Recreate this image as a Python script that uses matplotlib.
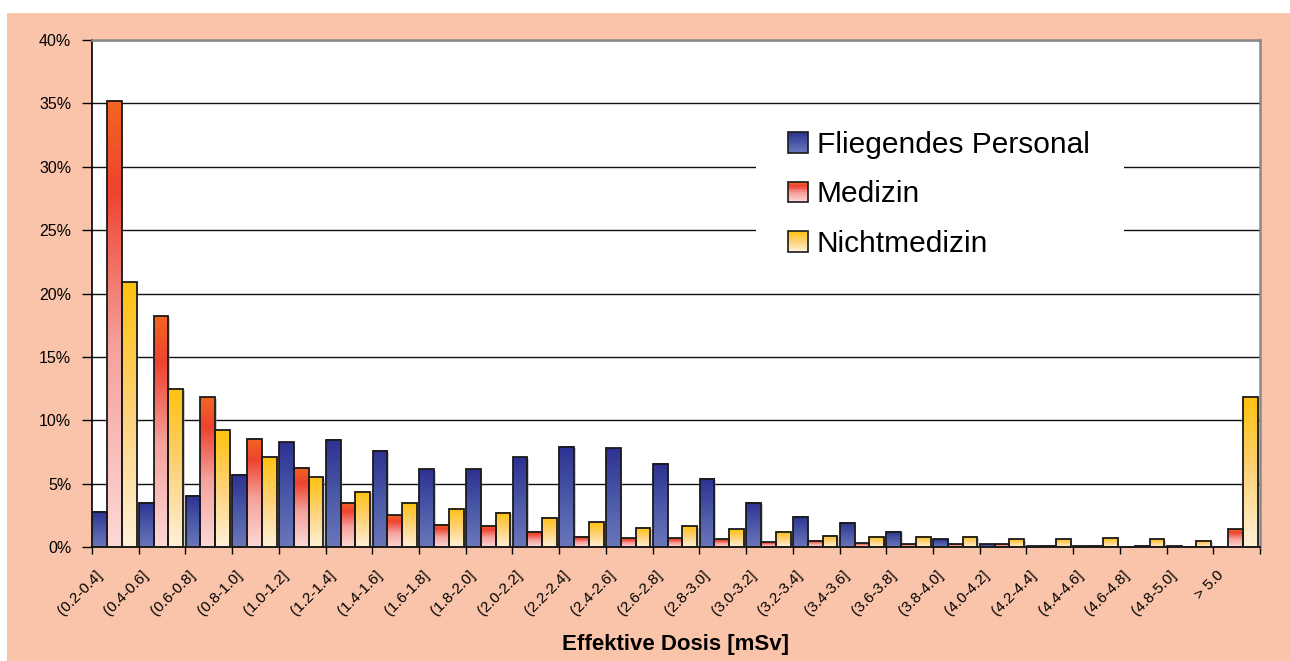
import matplotlib
matplotlib.use('Agg')
import matplotlib.pyplot as plt
import matplotlib.transforms as mtransforms
from matplotlib.colors import LinearSegmentedColormap
from matplotlib.patches import Rectangle, Patch
from matplotlib.legend_handler import HandlerPatch
import numpy as np

plt.rcParams['font.family'] = ['Liberation Sans', 'DejaVu Sans']

# Dosisklassen und Anteile in %
klassen = ['(0.2-0.4]', '(0.4-0.6]', '(0.6-0.8]', '(0.8-1.0]', '(1.0-1.2]',
           '(1.2-1.4]', '(1.4-1.6]', '(1.6-1.8]', '(1.8-2.0]', '(2.0-2.2]',
           '(2.2-2.4]', '(2.4-2.6]', '(2.6-2.8]', '(2.8-3.0]', '(3.0-3.2]',
           '(3.2-3.4]', '(3.4-3.6]', '(3.6-3.8]', '(3.8-4.0]', '(4.0-4.2]',
           '(4.2-4.4]', '(4.4-4.6]', '(4.6-4.8]', '(4.8-5.0]', '> 5.0']
fliegend = [2.8, 3.5, 4.05, 5.7, 8.25, 8.45, 7.6, 6.15, 6.15, 7.1,
            7.9, 7.8, 6.55, 5.4, 3.5, 2.4, 1.9, 1.2, 0.6, 0.2,
            0.05, 0.05, 0.0, 0.05, 0.0]
medizin = [35.2, 18.2, 11.8, 8.55, 6.25, 3.5, 2.5, 1.75, 1.66, 1.2,
           0.8, 0.7, 0.7, 0.6, 0.37, 0.5, 0.3, 0.2, 0.2, 0.2,
           0.1, 0.1, 0.1, 0.0, 1.4]
nichtmed = [20.9, 12.5, 9.2, 7.1, 5.5, 4.35, 3.5, 3.0, 2.7, 2.3,
            1.95, 1.5, 1.65, 1.4, 1.2, 0.9, 0.8, 0.8, 0.8, 0.6,
            0.6, 0.7, 0.6, 0.5, 11.8]
namen = ['Fliegendes Personal', 'Medizin', 'Nichtmedizin']
yticks = [0, 5, 10, 15, 20, 25, 30, 35, 40]

peach = '#FAC4AA'
cmaps = [
    LinearSegmentedColormap.from_list('b', ['#6B76BA', '#4A58A8', '#2E3192']),
    LinearSegmentedColormap.from_list('r', [(0, '#FCD8D6'), (0.45, '#F5A19C'),
                                            (0.8, '#EE4330'), (1, '#F26522')]),
    LinearSegmentedColormap.from_list('y', [(0, '#FFF1D8'), (0.5, '#FED27A'),
                                            (1, '#FFC20E')]),
]
grad = np.linspace(0, 1, 128).reshape(-1, 1)

fig = plt.figure(figsize=(12.9, 6.61), dpi=100, facecolor='white')
fig.patches.append(Rectangle((7 / 1290, 0), 1283 / 1290, 648 / 661,
                             transform=fig.transFigure, facecolor=peach,
                             edgecolor='none', zorder=-10))
ax = fig.add_axes([92 / 1290, 114 / 661, 1168 / 1290, 507 / 661])
ax.set_facecolor('white')

n = len(klassen)
x = np.arange(n)
w = 0.316
for k, serie in enumerate([fliegend, medizin, nichtmed]):
    left = x + 0.005 + k * w
    for xi, h in zip(left, serie):
        if h <= 0:
            continue
        ax.imshow(grad, cmap=cmaps[k], origin='lower', aspect='auto',
                  extent=[xi, xi + w, 0, h], zorder=2, interpolation='bilinear')
    # leichter Schatten
    sh = mtransforms.offset_copy(ax.transData, fig=fig, x=1.5, y=-1.5, units='dots')
    ax.bar(left, serie, w, align='edge', color='#9a9a9a', alpha=0.5,
           edgecolor='none', zorder=1.5, transform=sh)
    ax.bar(left, serie, w, align='edge', facecolor='none',
           edgecolor='#1a1a1a', linewidth=1.3, zorder=3)

ax.set_xlim(0, n)
ax.set_ylim(0, 40)
ax.set_yticks(yticks)
ax.set_yticklabels([f'{v}%' for v in yticks], fontsize=11.5)
ax.yaxis.grid(True, color='#111111', linewidth=1.0)
ax.set_axisbelow(True)

ax.set_xticks(np.arange(n + 1))
ax.set_xticklabels([])
ax.set_xticks(x + 0.06, minor=True)
ax.set_xticklabels(klassen, minor=True, rotation=45, ha='right',
                   rotation_mode='anchor', fontsize=11)
ax.tick_params(axis='x', which='minor', length=0, pad=15)
ax.tick_params(axis='x', which='major', length=5, width=1, direction='out')
ax.tick_params(axis='y', length=7, width=1, direction='out', pad=8)

for s in ['left', 'bottom']:
    ax.spines[s].set_color('black')
    ax.spines[s].set_linewidth(1.2)
for s in ['top', 'right']:
    ax.spines[s].set_color('#888888')
    ax.spines[s].set_linewidth(1.8)

ax.set_xlabel('Effektive Dosis [mSv]', fontsize=16, fontweight='bold')
ax.xaxis.set_label_coords(0.5, -0.172)


class GradHandler(HandlerPatch):
    def create_artists(self, legend, orig_handle, xdescent, ydescent,
                       width, height, fontsize, trans):
        cm = orig_handle.cmap
        arts = []
        steps = 12
        for i in range(steps):
            r = Rectangle((-xdescent, -ydescent + height * i / steps),
                          width, height / steps + 0.3,
                          facecolor=cm((i + 0.5) / steps), edgecolor='none',
                          transform=trans)
            arts.append(r)
        arts.append(Rectangle((-xdescent, -ydescent), width, height,
                              facecolor='none', edgecolor='#1a1a1a',
                              linewidth=1.2, transform=trans))
        return arts


handles = []
for k in range(3):
    p = Patch(label=namen[k])
    p.cmap = cmaps[k]
    handles.append(p)

# weisser Hintergrund der Legende
ax.add_patch(Rectangle((756 / 1290, (661 - 270) / 661), 368 / 1290, 154 / 661,
                       transform=fig.transFigure, facecolor='white',
                       edgecolor='none', zorder=1))
leg = ax.legend(handles=handles, loc='upper left',
                bbox_to_anchor=(788 / 1290, (661 - 131) / 661),
                bbox_transform=fig.transFigure, fontsize=21.5,
                frameon=False, handlelength=0.66, handleheight=0.66,
                handletextpad=0.3, labelspacing=0.72, borderpad=0,
                borderaxespad=0, handler_map={Patch: GradHandler()})
leg.set_zorder(5)

fig.savefig('out.png', dpi=100, facecolor=fig.get_facecolor())
